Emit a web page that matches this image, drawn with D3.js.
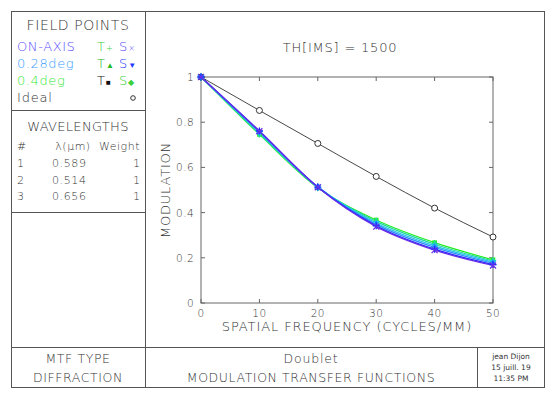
<!DOCTYPE html>
<html>
<head>
<meta charset="utf-8">
<script src="https://cdn.jsdelivr.net/npm/d3@7"></script>
<style>
  body { margin: 0; background: #fff; }
  text { font-family: "DejaVu Sans", sans-serif; font-weight: 200; fill: #333; }
  text.stamp { font-weight: 400; }
</style>
</head>
<body>
<svg id="chart"></svg>
<script>
// spatial frequency samples (cycles/mm)
const freq = [0, 10, 20, 30, 40, 50];
const xTicks = [0, 10, 20, 30, 40, 50];
const yTicks = [0, 0.2, 0.4, 0.6, 0.8, 1];

// MTF
const ideal     = [1, 0.852, 0.706, 0.560, 0.420, 0.292];
const onAxisT   = [1, 0.761, 0.513, 0.342, 0.238, 0.170];
const onAxisS   = [1, 0.760, 0.512, 0.338, 0.234, 0.166];
const deg028T   = [1, 0.757, 0.513, 0.348, 0.246, 0.176];
const deg028S   = [1, 0.754, 0.514, 0.354, 0.253, 0.181];
const deg04T    = [1, 0.746, 0.510, 0.367, 0.267, 0.191];
const deg04S    = [1, 0.749, 0.511, 0.361, 0.260, 0.186];

const fieldNames = ["ON-AXIS", "0.28deg", "0.4deg"];
const wavelengths = ["0.589", "0.514", "0.656"];
const weights = ["1", "1", "1"];

const W = 550, H = 398;
const svg = d3.select("#chart").attr("width", W).attr("height", H);

// ---- frame ----
const frame = { l: 11.5, t: 11.5, r: 544.5, b: 387.5 };
const split = { x: 145.5, y1: 110.5, y2: 212.5, bot: 347.5, date: 477.5 };
const lineColor = "#555";

svg.append("rect")
    .attr("x", frame.l).attr("y", frame.t)
    .attr("width", frame.r - frame.l).attr("height", frame.b - frame.t)
    .attr("fill", "none").attr("stroke", lineColor);

const seg = (x1, y1, x2, y2) => svg.append("line")
    .attr("x1", x1).attr("y1", y1).attr("x2", x2).attr("y2", y2)
    .attr("stroke", lineColor);

seg(split.x, frame.t, split.x, frame.b);
seg(frame.l, split.y1, split.x, split.y1);
seg(frame.l, split.y2, split.x, split.y2);
seg(frame.l, split.bot, frame.r, split.bot);
seg(split.date, split.bot, split.date, frame.b);

const txt = (x, y, s, size, anchor, color, spacing) => svg.append("text")
    .attr("x", x).attr("y", y)
    .attr("font-size", size)
    .attr("text-anchor", anchor || "start")
    .attr("letter-spacing", spacing || 0)
    .style("fill", color || "#333")
    .text(s);

// ---- field points legend ----
txt(78, 30, "FIELD POINTS", 14, "middle", "#333", 0.6);
const fieldColors = ["#5a4cff", "#3a9cff", "#3ae83a"];
const tColors = ["#3ad03a", "#22bb22", "#111"];
const sColors = ["#5a4cff", "#1f3cff", "#3ad03a"];
const tMarks = ["+", "\u25B2", "\u25A0"];
const sMarks = ["\u00D7", "\u25BC", "\u25C6"];
fieldNames.forEach((name, i) => {
    const y = 51 + i * 17;
    txt(17, y, name, 13, "start", fieldColors[i], 0.6);
    const t = svg.append("text").attr("x", 97).attr("y", y).attr("font-size", 13)
        .style("fill", tColors[i]);
    t.append("tspan").text("T");
    t.append("tspan").attr("font-size", 8).attr("dx", 1).text(tMarks[i]);
    const s = svg.append("text").attr("x", 119).attr("y", y).attr("font-size", 13)
        .style("fill", sColors[i]);
    s.append("tspan").text("S");
    s.append("tspan").attr("font-size", 8).attr("dx", 1).text(sMarks[i]);
});
txt(17, 102, "Ideal", 13, "start", "#333", 0.8);
svg.append("circle").attr("cx", 133).attr("cy", 98).attr("r", 2.3)
    .attr("fill", "none").attr("stroke", "#333");

// ---- wavelengths ----
txt(78, 131, "WAVELENGTHS", 13, "middle", "#333", 0.3);
txt(17, 150, "#", 11);
txt(73, 150, "\u03BB(\u03BCm)", 11, "middle", "#333", 0.5);
txt(140, 150, "Weight", 11, "end", "#333", 0.5);
wavelengths.forEach((w, i) => {
    const y = 167 + i * 16.5;
    txt(17, y, String(i + 1), 11);
    txt(52, y, w, 11, "start", "#333", 0.6);
    txt(140, y, weights[i], 11, "end");
});

// ---- bottom strip ----
txt(78, 363, "MTF TYPE", 12.5, "middle", "#333", 0.6);
txt(78, 382, "DIFFRACTION", 12.5, "middle", "#333", 0.6);
txt(311, 363, "Doublet", 12.5, "middle", "#333", 0.8);
txt(311, 382, "MODULATION TRANSFER FUNCTIONS", 12.5, "middle", "#333", 0.6);
txt(511, 359, "jean Dijon", 7.5, "middle").attr("class", "stamp");
txt(511, 370, "15 juill. 19", 7.5, "middle").attr("class", "stamp");
txt(511, 381, "11:35 PM", 7.5, "middle").attr("class", "stamp");

// ---- plot ----
const plot = { l: 201, r: 493, t: 77, b: 303 };
const x = d3.scaleLinear().domain([0, 50]).range([plot.l, plot.r]);
const y = d3.scaleLinear().domain([0, 1]).range([plot.b, plot.t]);

txt(340, 52, "TH[IMS] = 1500", 13, "middle", "#333", 0.8);

const g = svg.append("g");
g.append("rect")
    .attr("x", plot.l).attr("y", plot.t)
    .attr("width", plot.r - plot.l).attr("height", plot.b - plot.t)
    .attr("fill", "none").attr("stroke", "#666");

// ticks on all four sides, pointing inward
xTicks.forEach(v => {
    g.append("line").attr("x1", x(v)).attr("x2", x(v))
        .attr("y1", plot.t).attr("y2", plot.t + 4).attr("stroke", "#666");
    g.append("line").attr("x1", x(v)).attr("x2", x(v))
        .attr("y1", plot.b).attr("y2", plot.b - 4).attr("stroke", "#666");
});
yTicks.forEach(v => {
    g.append("line").attr("x1", plot.l).attr("x2", plot.l + 4)
        .attr("y1", y(v)).attr("y2", y(v)).attr("stroke", "#666");
    g.append("line").attr("x1", plot.r).attr("x2", plot.r - 4)
        .attr("y1", y(v)).attr("y2", y(v)).attr("stroke", "#666");
});

xTicks.forEach(v => txt(x(v), plot.b + 14, String(v), 10.5, "middle", "#333", 0.4));
yTicks.forEach(v => txt(plot.l - 7, y(v) + 4, String(v), 10.5, "end", "#333", 0.4));

txt(347, 331, "SPATIAL FREQUENCY (CYCLES/MM)", 13, "middle", "#333", 0.9);
svg.append("text")
    .attr("transform", `translate(170, ${(plot.t + plot.b) / 2}) rotate(-90)`)
    .attr("font-size", 13).attr("text-anchor", "middle")
    .attr("letter-spacing", 0.8)
    .text("MODULATION");

const series = [
    { values: ideal,   color: "#333",    width: 0.9, mark: "circle" },
    { values: deg04T,  color: "#22ee22", width: 1.2, mark: "square" },
    { values: deg04S,  color: "#22d9a0", width: 1.2, mark: "diamond" },
    { values: deg028S, color: "#22c4e6", width: 1.2, mark: "tridown" },
    { values: deg028T, color: "#2a8cff", width: 1.2, mark: "triup" },
    { values: onAxisT, color: "#1a28ff", width: 1.3, mark: "plus" },
    { values: onAxisS, color: "#6a2ee8", width: 1.3, mark: "cross" }
];

const line = d3.line()
    .x((d, i) => x(freq[i]))
    .y(d => y(d))
    .curve(d3.curveMonotoneX);

series.forEach(s => {
    g.append("path")
        .attr("d", line(s.values))
        .attr("fill", "none")
        .attr("stroke", s.color)
        .attr("stroke-width", s.width);
});

const symbolPath = {
    square: d3.symbol(d3.symbolSquare, 22)(),
    diamond: d3.symbol(d3.symbolDiamond, 20)(),
    triup: d3.symbol(d3.symbolTriangle, 22)(),
    plus: d3.symbol(d3.symbolCross, 28)()
};

series.forEach(s => {
    s.values.forEach((v, i) => {
        const cx = x(freq[i]), cy = y(v);
        if (s.mark === "circle") {
            g.append("circle").attr("cx", cx).attr("cy", cy).attr("r", 3)
                .attr("fill", "#fff").attr("stroke", s.color).attr("stroke-width", 1);
        } else if (s.mark === "cross") {
            g.append("path")
                .attr("d", `M${cx - 3},${cy - 3}L${cx + 3},${cy + 3}M${cx - 3},${cy + 3}L${cx + 3},${cy - 3}`)
                .attr("stroke", s.color).attr("stroke-width", 1.3);
        } else if (s.mark === "plus") {
            g.append("path")
                .attr("d", `M${cx - 3.5},${cy}L${cx + 3.5},${cy}M${cx},${cy - 3.5}L${cx},${cy + 3.5}`)
                .attr("stroke", s.color).attr("stroke-width", 1.3);
        } else if (s.mark === "tridown") {
            g.append("path").attr("d", symbolPath.triup)
                .attr("transform", `translate(${cx},${cy}) rotate(180)`)
                .attr("fill", s.color);
        } else {
            g.append("path").attr("d", symbolPath[s.mark])
                .attr("transform", `translate(${cx},${cy})`)
                .attr("fill", s.color);
        }
    });
});
</script>
</body>
</html>
